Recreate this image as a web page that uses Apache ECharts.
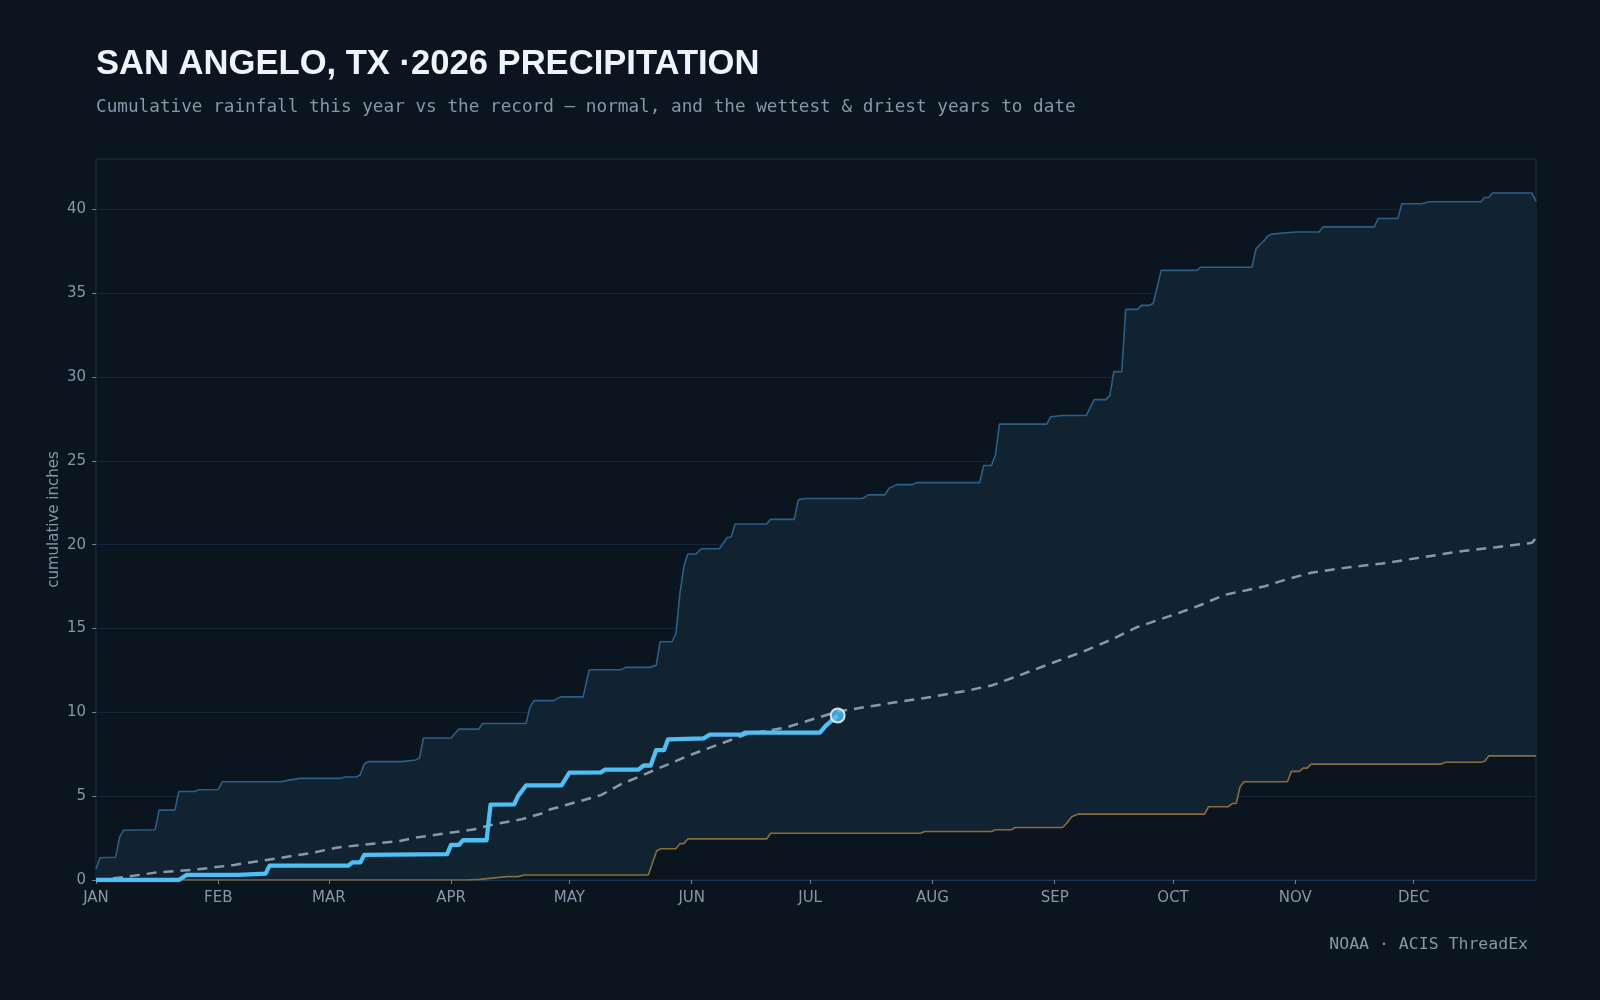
<!DOCTYPE html>
<html>
<head>
<meta charset="utf-8">
<script src="https://cdn.jsdelivr.net/npm/echarts@6/dist/echarts.min.js"></script>
<style>
html,body{margin:0;padding:0;background:#0b151f;}
#chart{width:1600px;height:1000px;}
</style>
</head>
<body>
<div id="chart"></div>
<script>
// ---- data (day of year, cumulative inches) ----
const monthStarts = [0,31,59,90,120,151,181,212,243,273,304,334];
const monthLabels = ['JAN','FEB','MAR','APR','MAY','JUN','JUL','AUG','SEP','OCT','NOV','DEC'];

const wettest = [[0,0.64],[1,1.33],[5,1.36],[5.5,1.4],[6,2.57],[7,2.97],[15,3.0],[16,4.17],[20,4.17],[21,5.28],[25,5.28],[26,5.38],[31,5.4],[32,5.86],[47,5.86],[48.5,5.94],[51.7,6.06],[62,6.06],[63,6.14],[66,6.14],[67,6.28],[68,6.92],[69,7.06],[77.5,7.06],[81,7.16],[82,7.28],[83,8.47],[90,8.47],[92,9.0],[97,9.0],[98,9.33],[109,9.33],[110,10.3],[111,10.7],[116,10.7],[117.8,10.92],[123.5,10.92],[124,11.0],[125,12.54],[133,12.54],[134.3,12.68],[140.3,12.68],[142,12.8],[143,14.21],[146,14.21],[147,14.69],[148,17.08],[149,18.68],[150,19.44],[152,19.44],[153.5,19.76],[158,19.76],[160,20.43],[161,20.46],[162,21.23],[170,21.23],[171,21.51],[177,21.51],[178,22.67],[179.7,22.75],[194.3,22.75],[195.8,22.97],[200,22.97],[201,23.36],[203,23.58],[207,23.58],[208,23.7],[224,23.7],[225,24.72],[227,24.72],[228,25.36],[229,27.19],[241,27.19],[242,27.63],[245,27.7],[251,27.7],[253,28.65],[256,28.65],[257,28.9],[258,30.32],[260,30.32],[261,34.03],[264,34.03],[265,34.27],[267,34.27],[268,34.4],[270,36.36],[279,36.36],[280,36.54],[293,36.54],[294,37.62],[295,37.9],[296,38.1],[297,38.41],[298,38.52],[304,38.65],[310,38.65],[311,38.95],[324,38.95],[325,39.45],[330,39.45],[331,40.33],[336,40.33],[338,40.45],[351,40.45],[352,40.7],[353,40.7],[354,40.97],[364,40.97],[365,40.47]];

const driest = [[0,0],[94,0],[97.3,0.04],[101.6,0.14],[104.3,0.2],[107,0.2],[108.7,0.3],[140,0.3],[142.1,1.73],[143,1.86],[147,1.86],[148,2.17],[149,2.17],[150,2.45],[170,2.45],[171,2.79],[209,2.79],[210,2.89],[227,2.89],[228,3.0],[232,3.0],[233,3.13],[245,3.13],[246,3.37],[247.3,3.77],[249,3.93],[281,3.93],[282,4.37],[287,4.37],[288,4.56],[289,4.56],[290,5.56],[291,5.86],[302,5.86],[303,6.48],[305,6.48],[306,6.67],[307,6.67],[308,6.91],[341,6.91],[342,7.02],[351,7.02],[352,7.08],[353,7.4],[365,7.4]];

const normal = [[0,0],[4,0.1],[8,0.2],[15,0.44],[26,0.64],[35,0.9],[47,1.33],[55,1.63],[61,1.93],[69,2.13],[77,2.33],[81,2.53],[89,2.79],[96,3.03],[101,3.33],[108,3.63],[113,3.97],[115,4.2],[128,5.06],[133,5.7],[141,6.5],[150,7.4],[158,8.1],[165,8.7],[175,9.1],[188,10.05],[200,10.5],[210,10.85],[220,11.26],[227,11.6],[234,12.2],[243,13.0],[250,13.6],[257,14.3],[264,15.09],[274,15.89],[280,16.4],[286,17.0],[296,17.5],[302,17.95],[308,18.32],[316,18.6],[326,18.88],[335,19.2],[345,19.58],[355,19.85],[364,20.11],[365,20.4]];

const thisYear = [[0,0],[21,0],[23,0.31],[36,0.31],[43,0.38],[44,0.86],[64,0.86],[65,1.05],[67,1.05],[68,1.5],[89,1.54],[90,2.09],[92,2.09],[93,2.37],[99,2.37],[100,4.49],[106,4.51],[107,5.02],[109,5.64],[118,5.64],[120,6.4],[128,6.42],[129,6.58],[137.5,6.58],[138.8,6.83],[140.6,6.83],[142,7.75],[144,7.75],[145,8.39],[154,8.45],[155.6,8.67],[163.7,8.67],[164.5,8.79],[183.5,8.79],[185,9.21],[188,9.81]];

const yTicks = {min:0, max:43, interval:5};

// ---- chart ----
const BG = '#0b151f';
const chart = echarts.init(document.getElementById('chart'), null, {renderer:'canvas'});
const labelColor = '#8797a9';

const option = {
  backgroundColor: BG,
  animation: false,
  grid: {left:96, right:64, top:159, bottom:120, show:true, borderColor:'#172f45', borderWidth:1, backgroundColor:'transparent'},
  graphic: [
    {type:'text', x:96, y:64, style:{text:'SAN ANGELO, TX ·2026 PRECIPITATION', font:'bold 34.6px "Liberation Sans", sans-serif', fill:'#eef4fa', verticalAlign:'middle'}},
    {type:'text', x:96, y:107, style:{text:'Cumulative rainfall this year vs the record — normal, and the wettest & driest years to date', font:'17.7px "DejaVu Sans Mono", monospace', fill:'#8797a9', verticalAlign:'middle'}},
    {type:'text', x:1528, y:945, style:{text:'NOAA · ACIS ThreadEx', font:'16.5px "DejaVu Sans Mono", monospace', fill:'#8797a9', verticalAlign:'middle', align:'right'}}
  ],
  xAxis: {
    type:'value', min:0, max:365,
    axisLine:{show:true, lineStyle:{color:'#1c3750', width:1}},
    axisTick:{show:true, length:4, customValues: monthStarts, lineStyle:{color:'#6f8093'}},
    axisLabel:{customValues: monthStarts, margin:11, color:labelColor, fontSize:15, fontFamily:'DejaVu Sans',
      formatter: v => monthLabels[monthStarts.indexOf(Math.round(v))] || ''},
    splitLine:{show:false}
  },
  yAxis: {
    type:'value', min:yTicks.min, max:yTicks.max, interval:yTicks.interval,
    name:'cumulative inches', nameLocation:'middle', nameGap:34, nameMoveOverlap:false,
    nameTextStyle:{color:labelColor, fontSize:15, fontFamily:'DejaVu Sans'},
    axisLine:{show:false},
    axisTick:{show:true, length:4, lineStyle:{color:'#6f8093'}},
    axisLabel:{margin:10, color:labelColor, fontSize:15, fontFamily:'DejaVu Sans', showMaxLabel:false},
    splitLine:{show:true, lineStyle:{color:'#13263a', width:1}}
  },
  series: [
    {
      name:'band', type:'custom', silent:true, z:1,
      data:[[0,0]], encode:{x:0, y:1},
      renderItem: (params, api) => {
        const pts = wettest.map(p => api.coord(p)).concat(driest.slice().reverse().map(p => api.coord(p)));
        return {type:'polygon', shape:{points:pts}, style:{fill:'#112230'}};
      }
    },
    {name:'wettest', type:'line', data:wettest, showSymbol:false, z:3, lineStyle:{color:'#2b5f88', width:1.6}},
    {name:'driest', type:'line', data:driest, showSymbol:false, z:3, lineStyle:{color:'#8a6c3c', width:1.6}},
    {name:'normal', type:'line', data:normal, showSymbol:false, z:4, lineStyle:{color:'#8a99a9', width:2.5, type:[10,7]}},
    {name:'this year', type:'line', data:thisYear, showSymbol:false, z:5, lineStyle:{color:'#4fc0f5', width:4.3, join:'round'}},
    {name:'latest', type:'scatter', data:[thisYear[thisYear.length-1]], z:6, symbolSize:14,
      itemStyle:{color:'#4fc0f5', borderColor:'#ffffff', borderWidth:2}}
  ]
};
chart.setOption(option);
</script>
</body>
</html>
